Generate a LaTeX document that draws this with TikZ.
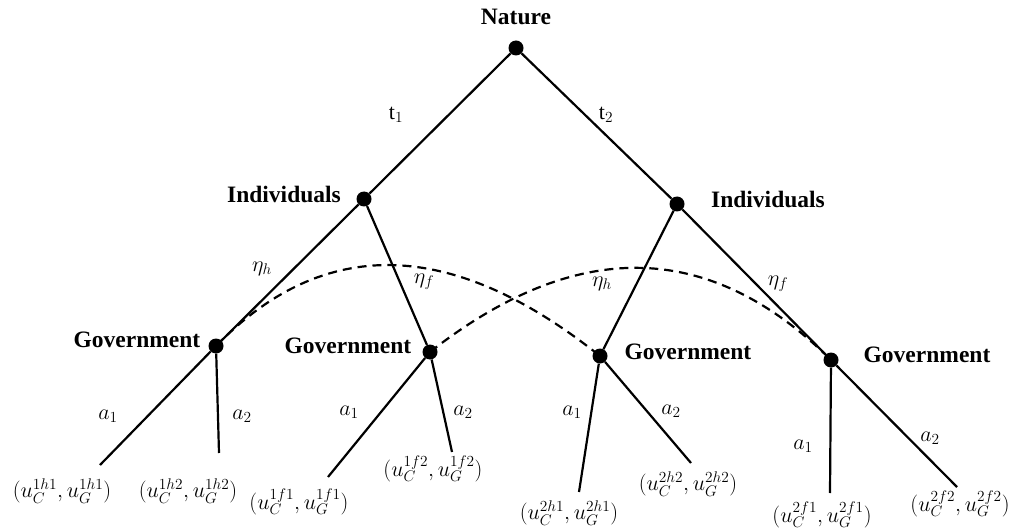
\documentclass[tikz,border=0pt]{standalone}
\usepackage{fix-cm}
\usepackage{fontspec}
\setmainfont{Liberation Serif}
\begin{document}
\begin{tikzpicture}[x=1pt,y=-1pt,
  dot/.style={circle,fill=black,inner sep=0pt,minimum size=15pt},
  lbl/.style={font=\fontsize{23.5}{28}\selectfont\bfseries,inner sep=0pt},
  ml/.style={font=\fontsize{22}{26}\selectfont,inner sep=0pt},
  edgeline/.style={line width=2.2pt},
  infoset/.style={line width=2.2pt,dash pattern=on 9pt off 6pt}]
\useasboundingbox (0,0) rectangle (1011,529);
% decision nodes
\node[dot] (nat) at (516,48) {};
\node[dot] (iL) at (364,199) {};
\node[dot] (iR) at (677,204) {};
\node[dot] (g1) at (216,346) {};
\node[dot] (g2) at (430,352) {};
\node[dot] (g3) at (600,356) {};
\node[dot] (g4) at (831,360) {};
% labels
\node[lbl] (tNat) at (516,17) {Nature};
\node[lbl] (tiL) at (284,194) {Individuals};
\node[lbl] (tiR) at (768,199) {Individuals};
\node[lbl] (tg1) at (137,340) {Government};
\node[lbl] (tg2) at (348,346) {Government};
\node[lbl] (tg3) at (688,352) {Government};
\node[lbl] (tg4) at (927,355) {Government};
% leaf ends
\coordinate (l1) at (100,465);
\coordinate (l2) at (219,453);
\coordinate (l3) at (328,477);
\coordinate (l4) at (452,452);
\coordinate (l5) at (579,492);
\coordinate (l6) at (691,463);
\coordinate (l7) at (830,493);
\coordinate (l8) at (957,487);
% edges
\draw[edgeline] (nat) -- (iL);
\draw[edgeline] (nat) -- (iR);
\draw[edgeline] (iL) -- (g1);
\draw[edgeline] (iL) -- (g2);
\draw[edgeline] (iR) -- (g3);
\draw[edgeline] (iR) -- (g4);
\draw[edgeline] (g1) -- (l1);
\draw[edgeline] (g1) -- (l2);
\draw[edgeline] (g2) -- (l3);
\draw[edgeline] (g2) -- (l4);
\draw[edgeline] (g3) -- (l5);
\draw[edgeline] (g3) -- (l6);
\draw[edgeline] (g4) -- (l7);
\draw[edgeline] (g4) -- (l8);
% information sets
\draw[infoset] (g1.center) .. controls (324,235) and (452,238) .. (g3.center);
\draw[infoset] (g2.center) .. controls (577,237) and (710,240) .. (g4.center);
% edge labels
\node[ml] (e1) at (396,115) {t$_1$};
\node[ml] (e2) at (606,115) {t$_2$};
\node[ml] (e3) at (262,269) {$\eta_h$};
\node[ml] (e4) at (424,282) {$\eta_f$};
\node[ml] (e5) at (602,284) {$\eta_h$};
\node[ml] (e6) at (778,284) {$\eta_f$};
\node[ml] (a1) at (108,416) {$a_1$};
\node[ml] (a2) at (242,416) {$a_2$};
\node[ml] (a3) at (349,412) {$a_1$};
\node[ml] (a4) at (463,412) {$a_2$};
\node[ml] (a5) at (572,412) {$a_1$};
\node[ml] (a6) at (671,411) {$a_2$};
\node[ml] (a7) at (803,446) {$a_1$};
\node[ml] (a8) at (930,438) {$a_2$};
% payoffs
\node[ml] (p1) at (62,491) {$(u_C^{1h1},u_G^{1h1})$};
\node[ml] (p2) at (188,491) {$(u_C^{1h2},u_G^{1h2})$};
\node[ml] (p3) at (299,502) {$(u_C^{1f1},u_G^{1f1})$};
\node[ml] (p4) at (433,469) {$(u_C^{1f2},u_G^{1f2})$};
\node[ml] (p5) at (569,513) {$(u_C^{2h1},u_G^{2h1})$};
\node[ml] (p6) at (688,484) {$(u_C^{2h2},u_G^{2h2})$};
\node[ml] (p7) at (822,515) {$(u_C^{2f1},u_G^{2f1})$};
\node[ml] (p8) at (960,504) {$(u_C^{2f2},u_G^{2f2})$};
\end{tikzpicture}
\end{document}
